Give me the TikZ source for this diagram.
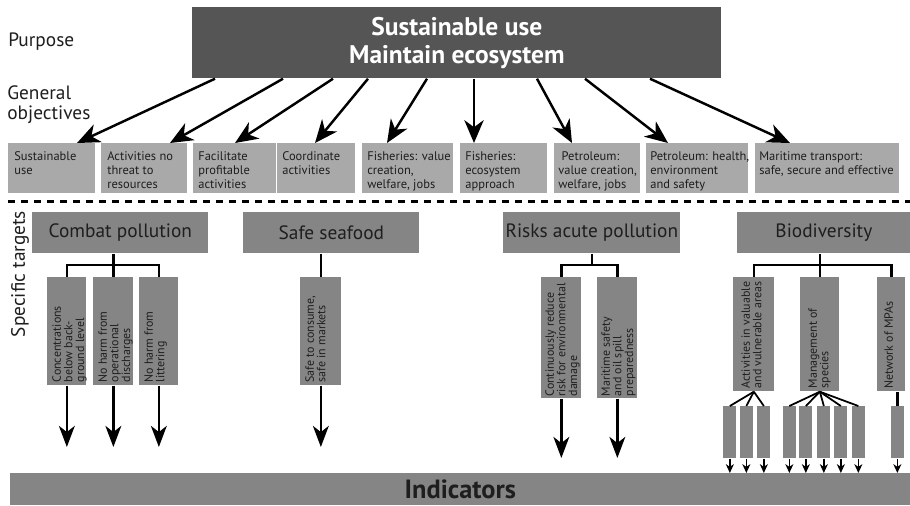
\documentclass[tikz,border=0pt]{standalone}
\usepackage{fontspec}
\setmainfont{PT Sans}
\usetikzlibrary{arrows.meta,calc}

\definecolor{darkbox}{HTML}{555555}
\definecolor{lightbox}{HTML}{A9A9A9}
\definecolor{midbox}{HTML}{858585}
\definecolor{boxtext}{HTML}{1E1E1E}

\newcommand{\pxu}{0.02cm}

\tikzset{
  sidelabel/.style={inner sep=0pt, text=boxtext, font=\fontsize{11}{11.5}\selectfont},
  purposebox/.style={fill=darkbox, text=white, inner sep=0pt, align=center,
    font=\fontsize{14.5}{16}\selectfont\bfseries},
  objbox/.style={fill=lightbox, inner sep=0pt, anchor=north west, minimum height=50*\pxu},
  objtext/.style={inner sep=0pt, anchor=north west, align=left, text=boxtext,
    font=\fontsize{7.1}{8}\selectfont},
  targetbox/.style={fill=midbox, inner sep=0pt, anchor=north west, minimum height=41*\pxu,
    text=boxtext, font=\fontsize{11}{12}\selectfont},
  subbox/.style={fill=midbox, inner sep=0pt, anchor=north west},
  subtext/.style={inner sep=0pt, rotate=90, anchor=north west, align=left, text=boxtext,
    font=\fontsize{6.8}{6.6}\selectfont},
  tinybox/.style={fill=midbox, inner sep=0pt, anchor=north west,
    minimum width=13*\pxu, minimum height=52*\pxu},
  bigarrow/.style={line width=1.4pt, -{Stealth[length=13pt,width=11pt,inset=4pt]}},
  downarrow/.style={line width=1.4pt, -{Stealth[length=12pt,width=9pt,inset=3.5pt]}},
  tree/.style={line width=1.5pt},
  fan/.style={line width=1pt},
  smallarrow/.style={line width=0.9pt, -{Stealth[length=5pt,width=4.5pt,inset=1.5pt]}},
  sepline/.style={line width=1.7pt, dash pattern=on 4pt off 3.4pt}
}

\begin{document}
\begin{tikzpicture}[x=0.02cm, y=-0.02cm]
    \useasboundingbox (0,0) rectangle (910,505);

    % Etichette a sinistra
    \node[sidelabel, anchor=west] (purposelbl) at (8,42) {Purpose};
    \node[sidelabel, anchor=north west, align=left] (objlbl) at (7,85) {General\\objectives};
    \node[sidelabel, rotate=90] (targetlbl) at (20,274) {Specific targets};

    % Scopo
    \node[purposebox, anchor=north west, minimum width=529*\pxu, minimum height=71*\pxu]
        (purpose) at (192,7) {Sustainable use\\Maintain ecosystem};

    % Obiettivi generali
    \node[objbox, minimum width=87*\pxu] (o1) at (8,143) {};
    \node[objbox, minimum width=86*\pxu] (o2) at (101,143) {};
    \node[objbox, minimum width=83*\pxu] (o3) at (193,143) {};
    \node[objbox, minimum width=78*\pxu] (o4) at (277,143) {};
    \node[objbox, minimum width=91*\pxu] (o5) at (362,143) {};
    \node[objbox, minimum width=87*\pxu] (o6) at (460,143) {};
    \node[objbox, minimum width=86*\pxu] (o7) at (554,143) {};
    \node[objbox, minimum width=102*\pxu] (o8) at (646,143) {};
    \node[objbox, minimum width=144*\pxu] (o9) at (755,143) {};

    \node[objtext] (o1t) at ($(o1.north west)+(6,8)$) {Sustainable\\use};
    \node[objtext] (o2t) at ($(o2.north west)+(6,8)$) {Activities no\\threat to\\resources};
    \node[objtext] (o3t) at ($(o3.north west)+(5,8)$) {Facilitate\\profitable\\activities};
    \node[objtext] (o4t) at ($(o4.north west)+(5,8)$) {Coordinate\\activities};
    \node[objtext] (o5t) at ($(o5.north west)+(5,8)$) {Fisheries: value\\creation,\\welfare, jobs};
    \node[objtext] (o6t) at ($(o6.north west)+(5,8)$) {Fisheries:\\ecosystem\\approach};
    \node[objtext] (o7t) at ($(o7.north west)+(4,8)$) {\ Petroleum:\\value creation,\\welfare, jobs};
    \node[objtext] (o8t) at ($(o8.north west)+(4,8)$) {Petroleum: health,\\environment\\and safety};
    \node[objtext] (o9t) at ($(o9.north west)+(4,8)$) {Maritime transport:\\safe, secure and effective};

    % Frecce dallo scopo
    \draw[bigarrow] ([xshift=23*\pxu]purpose.south west) -- ([xshift=69*\pxu]o1.north west);
    \draw[bigarrow] ([xshift=91*\pxu]purpose.south west) -- ([xshift=69*\pxu]o2.north west);
    \draw[bigarrow] ([xshift=141*\pxu]purpose.south west) -- ([xshift=42*\pxu]o3.north west);
    \draw[bigarrow] ([xshift=176*\pxu]purpose.south west) -- ([xshift=38*\pxu]o4.north west);
    \draw[bigarrow] ([xshift=235*\pxu]purpose.south west) -- ([xshift=25*\pxu]o5.north west);
    \draw[bigarrow] ([xshift=282*\pxu]purpose.south west) -- ([xshift=14*\pxu]o6.north west);
    \draw[bigarrow] ([xshift=345*\pxu]purpose.south west) -- ([xshift=18*\pxu]o7.north west);
    \draw[bigarrow] ([xshift=393*\pxu]purpose.south west) -- ([xshift=22*\pxu]o8.north west);
    \draw[bigarrow] ([xshift=458*\pxu]purpose.south west) -- ([xshift=35*\pxu]o9.north west);

    % Linea tratteggiata
    \coordinate (sepL) at (8,201);
    \coordinate (sepR) at (910,201);
    \draw[sepline] (sepL) -- (sepR);

    % Obiettivi specifici
    \node[targetbox, minimum width=176*\pxu] (combat) at (32,212) {Combat pollution};
    \node[targetbox, minimum width=176*\pxu] (seafood) at (243,212) {Safe seafood};
    \node[targetbox, minimum width=177*\pxu] (risks) at (503,212) {Risks acute pollution};
    \node[targetbox, minimum width=173*\pxu] (biodiv) at (737,212) {Biodiversity};

    % Sotto-obiettivi
    \node[subbox, minimum width=39*\pxu, minimum height=108*\pxu] (c1) at (47,277) {};
    \node[subbox, minimum width=40*\pxu, minimum height=108*\pxu] (c2) at (93,277) {};
    \node[subbox, minimum width=39*\pxu, minimum height=108*\pxu] (c3) at (139,277) {};
    \node[subbox, minimum width=41*\pxu, minimum height=108*\pxu] (s1) at (300,277) {};
    \node[subbox, minimum width=40*\pxu, minimum height=121*\pxu] (r1) at (541,277) {};
    \node[subbox, minimum width=40*\pxu, minimum height=121*\pxu] (r2) at (597,277) {};
    \node[subbox, minimum width=41*\pxu, minimum height=114*\pxu] (b1) at (733,277) {};
    \node[subbox, minimum width=39*\pxu, minimum height=114*\pxu] (b2) at (800,277) {};
    \node[subbox, minimum width=28*\pxu, minimum height=114*\pxu] (b3) at (877,277) {};

    \node[subtext] (c1t) at ($(c1.south west)+(5,-3)$) {Concentrations\\below back-\\ground level};
    \node[subtext] (c2t) at ($(c2.south west)+(5,-3)$) {No harm from\\operational\\discharges};
    \node[subtext] (c3t) at ($(c3.south west)+(5,-3)$) {No harm from\\littering};
    \node[subtext] (s1t) at ($(s1.south west)+(5,-3)$) {Safe to consume,\\safe in markets};
    \node[subtext] (r1t) at ($(r1.south west)+(4,-2)$) {Continuously reduce\\risk for environmental\\damage};
    \node[subtext] (r2t) at ($(r2.south west)+(4,-2)$) {Maritime safety\\and oil spill\\preparedness};
    \node[subtext] (b1t) at ($(b1.south west)+(8,-3)$) {Activities in valuable\\and vulnerable areas};
    \node[subtext] (b2t) at ($(b2.south west)+(8,-3)$) {Management of\\species};
    \node[subtext] (b3t) at ($(b3.south west)+(7,-3)$) {Network of MPAs};

    % Collegamenti ad albero
    \draw[tree] (combat.south -| c2.north) -- (c2.north);
    \draw[tree] (c1.north) -- ++(0,-12) -| (c3.north);
    \draw[tree] (seafood.south -| s1.north) -- (s1.north);
    \draw[tree] (risks.south) -- ++(0,12);
    \draw[tree] (r1.north) -- ++(0,-12) -| (r2.north);
    \draw[tree] (biodiv.south -| b2.north) -- (b2.north);
    \draw[tree] (b1.north) -- ++(0,-12) -| (b3.north);

    % Frecce verso gli indicatori
    \coordinate (tipA) at (0,447);
    \coordinate (tipB) at (0,458);
    \draw[downarrow] (c1.south) -- (c1.south |- tipA);
    \draw[downarrow] (c2.south) -- (c2.south |- tipA);
    \draw[downarrow] (c3.south) -- (c3.south |- tipA);
    \draw[downarrow] (s1.south) -- (s1.south |- tipA);
    \draw[downarrow] (r1.south) -- (r1.south |- tipB);
    \draw[downarrow] (r2.south) -- (r2.south |- tipB);

    % Box piccoli della biodiversita
    \node[tinybox] (a1) at (723,406) {};
    \node[tinybox] (a2) at (739.5,406) {};
    \node[tinybox] (a3) at (757,406) {};
    \node[tinybox] (m1) at (782.5,406) {};
    \node[tinybox] (m2) at (799,406) {};
    \node[tinybox] (m3) at (817,406) {};
    \node[tinybox] (m4) at (834,406) {};
    \node[tinybox] (m5) at (851.5,406) {};
    \node[tinybox] (n1) at (890.5,406) {};

    \draw[fan] (b1.south) -- (a1.north);
    \draw[fan] (b1.south) -- (a2.north);
    \draw[fan] (b1.south) -- (a3.north);
    \draw[fan] (b2.south) -- (m1.north);
    \draw[fan] (b2.south) -- (m2.north);
    \draw[fan] (b2.south) -- (m3.north);
    \draw[fan] (b2.south) -- (m4.north);
    \draw[fan] (b2.south) -- (m5.north);
    \draw[tree] (b3.south -| n1.north) -- (n1.north);

    % Indicatori
    \node[fill=midbox, inner sep=0pt, anchor=north west, minimum width=900*\pxu,
        minimum height=32*\pxu, text=boxtext, font=\fontsize{15}{16}\selectfont\bfseries]
        (indicators) at (10,473) {Indicators};

    \draw[smallarrow] (a1.south) -- (a1.south |- indicators.north);
    \draw[smallarrow] (a2.south) -- (a2.south |- indicators.north);
    \draw[smallarrow] (a3.south) -- (a3.south |- indicators.north);
    \draw[smallarrow] (m1.south) -- (m1.south |- indicators.north);
    \draw[smallarrow] (m2.south) -- (m2.south |- indicators.north);
    \draw[smallarrow] (m3.south) -- (m3.south |- indicators.north);
    \draw[smallarrow] (m4.south) -- (m4.south |- indicators.north);
    \draw[smallarrow] (m5.south) -- (m5.south |- indicators.north);
    \draw[smallarrow] (n1.south) -- (n1.south |- indicators.north);
\end{tikzpicture}
\end{document}
